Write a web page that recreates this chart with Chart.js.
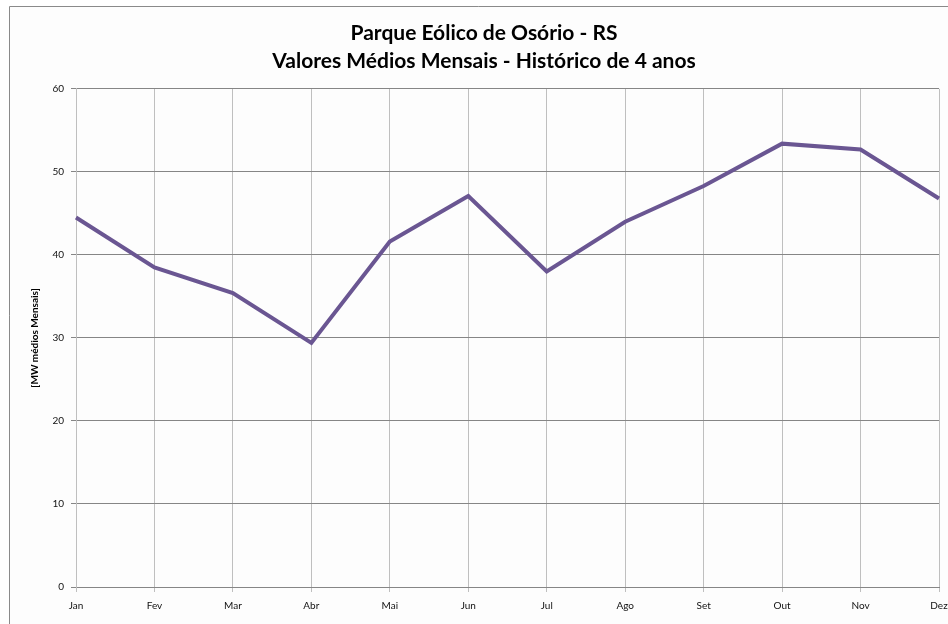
<!DOCTYPE html>
<html>
<head>
<meta charset="utf-8">
<script src="https://cdn.jsdelivr.net/npm/chart.js@4"></script>
<style>
    body { margin: 0; background: #fff; }
    #wrap { position: relative; width: 948px; height: 624px; }
</style>
</head>
<body>
<div id="wrap"><canvas id="grafico" width="948" height="624"></canvas></div>
<script>
// dados
const meses = ['Jan', 'Fev', 'Mar', 'Abr', 'Mai', 'Jun', 'Jul', 'Ago', 'Set', 'Out', 'Nov', 'Dez'];
const mediasMW = [44.5, 38.5, 35.4, 29.4, 41.6, 47.1, 38.0, 44.0, 48.3, 53.4, 52.7, 46.8];
const titulo = ['Parque Eólico de Osório - RS', 'Valores Médios Mensais - Histórico de 4 anos'];
const tituloEixoY = '[MW médios Mensais]';

// fundo e moldura no estilo da planilha
const moldura = {
    id: 'moldura',
    beforeDraw(chart) {
        let ctx = chart.ctx;
        ctx.save();
        ctx.fillStyle = '#ffffff';
        ctx.fillRect(0, 0, chart.width, chart.height);
        ctx.fillStyle = '#fdfdfd';
        ctx.fillRect(9, 6, chart.width - 9, chart.height - 6);
        ctx.strokeStyle = '#8a8a8a';
        ctx.lineWidth = 1;
        ctx.beginPath();
        ctx.moveTo(9.5, chart.height);
        ctx.lineTo(9.5, 6.5);
        ctx.lineTo(chart.width, 6.5);
        ctx.stroke();
        ctx.restore();
    }
};

new Chart(document.getElementById('grafico'), {
    type: 'line',
    data: {
        labels: meses,
        datasets: [{
            label: 'MW médios',
            data: mediasMW,
            borderColor: '#6a5692',
            borderWidth: 4,
            pointRadius: 0,
            tension: 0,
            fill: false
        }]
    },
    options: {
        responsive: false,
        animation: false,
        layout: { padding: { left: 20, right: 0, top: 0, bottom: 0 } },
        plugins: {
            legend: { display: false },
            tooltip: { enabled: false },
            title: {
                display: true,
                text: titulo,
                color: '#000',
                font: { family: 'Lato', size: 21, weight: 'bold', lineHeight: 1.33 },
                padding: { top: 19, bottom: 14 }
            }
        },
        scales: {
            x: {
                offset: false,
                grid: { color: '#bfbfbf', lineWidth: 1, tickLength: 5, drawTicks: true },
                border: { color: '#868686' },
                ticks: { color: '#111', font: { family: 'Lato', size: 10 }, padding: 8, maxRotation: 0, autoSkip: false },
                afterFit(scale) {
                    scale.height = 37;
                    scale.paddingRight = 9;
                }
            },
            y: {
                min: 0,
                max: 60,
                grid: { color: '#868686', lineWidth: 1, tickLength: 5 },
                border: { color: '#bfbfbf' },
                ticks: { stepSize: 10, color: '#111', font: { family: 'Lato', size: 10 }, padding: 7 },
                title: {
                    display: true,
                    text: tituloEixoY,
                    color: '#000',
                    font: { family: 'Lato', size: 10, weight: 'bold' },
                    padding: { top: 9, bottom: 0 }
                },
                afterFit(scale) { scale.width = 56; }
            }
        }
    },
    plugins: [moldura]
});
</script>
</body>
</html>
